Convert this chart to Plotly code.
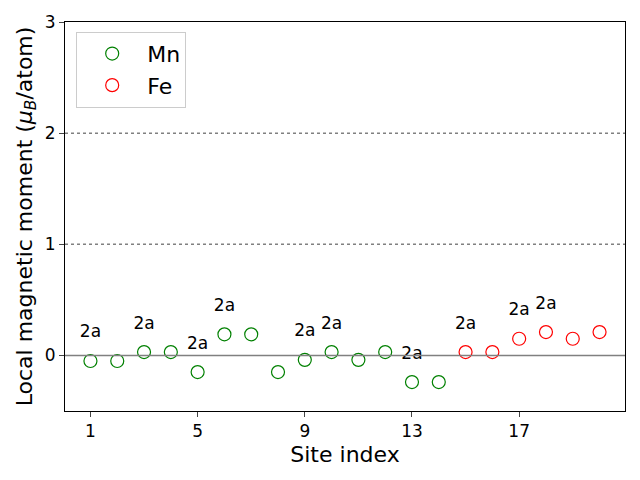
import plotly.graph_objects as go

mn_sites = list(range(1, 15))
mn_vals = [-0.05, -0.05, 0.03, 0.03, -0.15, 0.19, 0.19, -0.15, -0.04, 0.03, -0.04, 0.03, -0.24, -0.24]
fe_sites = list(range(15, 21))
fe_vals = [0.03, 0.03, 0.15, 0.21, 0.15, 0.21]
label_sites = [1, 3, 5, 6, 9, 10, 13, 15, 17, 18]
label_text = "2a"
label_offset = 0.25
x_ticks = [1, 5, 9, 13, 17]
y_ticks = [0, 1, 2, 3]

all_vals = dict(zip(mn_sites + fe_sites, mn_vals + fe_vals))

fig = go.Figure()
fig.add_trace(go.Scatter(x=mn_sites, y=mn_vals, mode="markers", name="Mn",
                         marker=dict(symbol="circle-open", size=13, color="green", line=dict(width=1.2))))
fig.add_trace(go.Scatter(x=fe_sites, y=fe_vals, mode="markers", name="Fe",
                         marker=dict(symbol="circle-open", size=13, color="red", line=dict(width=1.2))))
fig.add_trace(go.Scatter(x=label_sites, y=[all_vals[s] + label_offset for s in label_sites],
                         mode="text", text=[label_text] * len(label_sites), showlegend=False,
                         textfont=dict(size=17, color="black", family="DejaVu Sans"), hoverinfo="skip"))

fig.add_hline(y=0, line=dict(color="gray", width=1.5))
for yv in [1, 2]:
    fig.add_hline(y=yv, line=dict(color="gray", width=1.5, dash="dot"))

fig.update_layout(
    width=640, height=480,
    margin=dict(l=65, r=15, t=22, b=69),
    plot_bgcolor="white", paper_bgcolor="white",
    font=dict(family="DejaVu Sans", color="black"),
    showlegend=True,
    legend=dict(x=0.02, y=0.975, xanchor="left", yanchor="top",
                bordercolor="#cccccc", borderwidth=1, bgcolor="white",
                font=dict(size=22), itemwidth=60),
)
fig.update_xaxes(range=[0.05, 20.95], tickvals=x_ticks, ticks="outside", ticklen=5,
                 tickfont=dict(size=17), showgrid=False, zeroline=False,
                 showline=True, linecolor="black", linewidth=1, mirror=True,
                 title=dict(text="Site index", font=dict(size=22), standoff=6))
fig.update_yaxes(range=[-0.5, 3], tickvals=y_ticks, ticks="outside", ticklen=5,
                 tickfont=dict(size=17), showgrid=False, zeroline=False,
                 showline=True, linecolor="black", linewidth=1, mirror=True,
                 title=dict(text="Local magnetic moment (<i>μ</i><sub><i>B</i></sub>/atom)",
                            font=dict(size=22), standoff=6))

fig.write_html("out.html")
